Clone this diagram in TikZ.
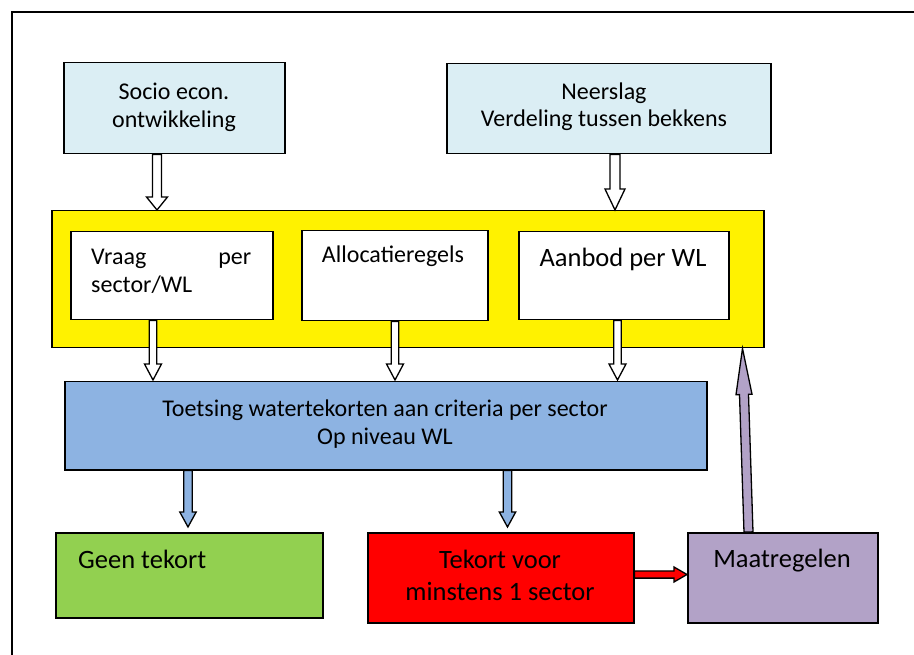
\documentclass[tikz,border=0pt]{standalone}
\usepackage{fontspec}
\setmainfont{Carlito}
\usetikzlibrary{calc}
\definecolor{lblue}{HTML}{DBEEF4}
\definecolor{mblue}{HTML}{8DB3E2}
\definecolor{lgreen}{HTML}{92D050}
\definecolor{lpurple}{HTML}{B2A2C7}
\newcommand\blkarrow[6]{%
  \coordinate (bah) at ($(#2)!#5!(#1)$);
  \draw[#6] ($(#1)!#3!90:(#2)$) -- ($(bah)!#3!-90:(#1)$) -- ($(bah)!#4!-90:(#1)$) -- (#2)
    -- ($(bah)!#4!90:(#1)$) -- ($(bah)!#3!90:(#1)$) -- ($(#1)!#3!-90:(#2)$) -- cycle;}
\tikzset{
  box/.style={draw=black, line width=1.5pt, inner sep=0pt, anchor=north west},
  txt/.style={inner sep=0pt, font=\fontsize{24}{29}\selectfont},
  big/.style={inner sep=0pt, font=\fontsize{26.5}{32}\selectfont},
  hollow/.style={draw=black, fill=white, line width=1.3pt, line join=miter},
  barrow/.style={draw=black, fill=mblue, line width=1.3pt, line join=miter},
  rarrow/.style={draw=black, fill=red, line width=1.3pt, line join=miter},
  parrow/.style={draw=black, fill=lpurple, line width=1.3pt, line join=miter}
}
\begin{document}
\begin{tikzpicture}[x=1pt,y=-1pt]
\useasboundingbox (0,0) rectangle (914,655);
\fill[white] (0,0) rectangle (914,655);
% outer frame
\draw[line width=2pt] (914,12) -- (12,12) -- (12,655);
% boxes
\node[box, fill=lblue, minimum width=221pt, minimum height=91pt] (socio) at (63,62) {};
\node[box, fill=lblue, minimum width=324pt, minimum height=90pt] (neer) at (446,63) {};
\node[box, fill=yellow, minimum width=712pt, minimum height=137pt] (yel) at (51,210) {};
\node[box, fill=white, minimum width=202pt, minimum height=88pt] (vraag) at (70,231) {};
\node[box, fill=white, minimum width=186pt, minimum height=90pt] (alloc) at (301,230) {};
\node[box, fill=white, minimum width=210pt, minimum height=88pt] (aanbod) at (518,231) {};
\node[box, fill=mblue, minimum width=642pt, minimum height=88pt] (toets) at (64,381) {};
\node[box, fill=lgreen, minimum width=267pt, minimum height=85pt] (geen) at (55,532) {};
\node[box, fill=red, minimum width=266pt, minimum height=90pt] (tekort) at (367,532) {};
\node[box, fill=lpurple, minimum width=190pt, minimum height=90pt] (maat) at (687,532) {};
% texts
\node[txt, anchor=base] (socio1) at (174,100) {Socio econ.};
\node[txt, anchor=base] (socio2) at (174,128) {ontwikkeling};
\node[txt, anchor=base] (neer1) at (604,100) {Neerslag};
\node[txt, anchor=base] (neer2) at (604,127) {Verdeling tussen bekkens};
\node[txt, anchor=base west] (vraag1) at (91,265) {\makebox[160pt][l]{Vraag\hfill per}};
\node[txt, anchor=base west] (vraag2) at (91,293) {sector/WL};
\node[txt, anchor=base] (alloc1) at (393,263) {Allocatieregels};
\node[big, anchor=base] (aanbod1) at (623,267) {Aanbod per WL};
\node[txt, anchor=base] (toets1) at (385,416) {Toetsing watertekorten aan criteria per sector};
\node[txt, anchor=base] (toets2) at (385,444) {Op niveau WL};
\node[big, anchor=base west] (geen1) at (78,568) {Geen tekort};
\node[big, anchor=base] (tekort1) at (500,568) {Tekort voor};
\node[big, anchor=base] (tekort2) at (500,600) {minstens 1 sector};
\node[big, anchor=base] (maat1) at (782,567) {Maatregelen};
% arrow end points
\coordinate (a1s) at ($(socio.south west)+(94,0)$);
\coordinate (a1e) at (a1s |- yel.north);
\coordinate (a2s) at ($(neer.south west)+(169,0)$);
\coordinate (a2e) at (a2s |- yel.north);
\coordinate (a3s) at ($(vraag.south west)+(83,0)$);
\coordinate (a3e) at ($(a3s |- toets.north)+(0,-1)$);
\coordinate (a4s) at ($(alloc.south west)+(94,0)$);
\coordinate (a4e) at ($(a4s |- toets.north)+(0,-1)$);
\coordinate (a5s) at ($(aanbod.south west)+(99.5,0)$);
\coordinate (a5e) at ($(a5s |- toets.north)+(0,-1)$);
\coordinate (a6s) at ($(toets.south west)+(124,0)$);
\coordinate (a6e) at ($(a6s |- geen.north)+(0,-5)$);
\coordinate (a7s) at ($(toets.south west)+(443.5,0)$);
\coordinate (a7e) at ($(a7s |- tekort.north)+(0,-5)$);
\coordinate (a8s) at ($(tekort.north east)+(0,42.5)$);
\coordinate (a8e) at (a8s -| maat.west);
\coordinate (a9s) at ($(maat.north west)+(61.5,0)$);
\coordinate (a9e) at ($(yel.south east)+(-22,0)$);
% arrows
\blkarrow{a1s}{a1e}{4.5pt}{10.5pt}{13pt}{hollow}
\blkarrow{a2s}{a2e}{5pt}{10pt}{21pt}{hollow}
\blkarrow{a3s}{a3e}{3.8pt}{8.5pt}{16pt}{hollow}
\blkarrow{a4s}{a4e}{3.8pt}{8.5pt}{16pt}{hollow}
\blkarrow{a5s}{a5e}{3.8pt}{8.5pt}{16pt}{hollow}
\blkarrow{a6s}{a6e}{4.2pt}{8.2pt}{15pt}{barrow}
\blkarrow{a7s}{a7e}{4.2pt}{8.2pt}{15pt}{barrow}
\blkarrow{a8s}{a8e}{3.6pt}{7.5pt}{13pt}{rarrow}
\blkarrow{a9s}{a9e}{4.5pt}{8pt}{46pt}{parrow}
\end{tikzpicture}
\end{document}
